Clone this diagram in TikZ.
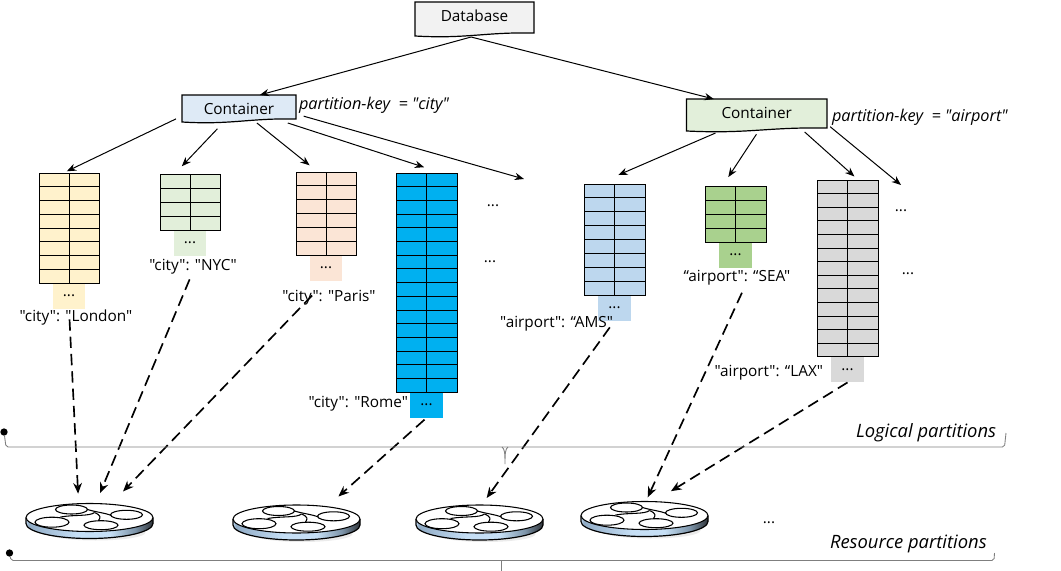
\documentclass[tikz,border=0pt]{standalone}
\usepackage{fontspec}
\setmainfont[Ligatures=TeXOff]{Open Sans}
\usetikzlibrary{calc,positioning,arrows.meta,shadings}
\definecolor{dbfill}{HTML}{F2F2F2}
\definecolor{cityfill}{HTML}{DEEAF6}
\definecolor{airportfill}{HTML}{E2EFDA}
\definecolor{londonfill}{HTML}{FFF2CC}
\definecolor{nycfill}{HTML}{E2EFDA}
\definecolor{parisfill}{HTML}{FBE5D6}
\definecolor{romefill}{HTML}{00B0F0}
\definecolor{amsfill}{HTML}{BDD7EE}
\definecolor{seafill}{HTML}{A9D18E}
\definecolor{laxfill}{HTML}{D9D9D9}
\definecolor{braceline}{HTML}{7F7F7F}
\definecolor{diskedge}{HTML}{8FAAC4}
\definecolor{disklight}{HTML}{C6DFF5}
\definecolor{diskmid}{HTML}{7C93A8}
\definecolor{diskdark}{HTML}{2F3439}
\pgfdeclarehorizontalshading{diskband}{100bp}{
	color(0bp)=(disklight);
	color(25bp)=(disklight);
	color(26bp)=(diskedge);
	color(45bp)=(disklight);
	color(58bp)=(disklight);
	color(68bp)=(diskmid);
	color(75bp)=(diskdark);
	color(100bp)=(diskdark)
}
\tikzset{
	x=0.75pt,
	y=-0.75pt,
	>={Stealth[length=7pt,width=5.5pt]},
	every node/.style={inner sep=0pt, outer sep=0pt, font=\fontsize{11.5}{13}\selectfont},
	link/.style={->, line width=0.75pt},
	dashlink/.style={->, line width=1.25pt, dash pattern=on 8.5pt off 4.5pt,
		>={Stealth[length=8pt,width=6.5pt]}},
	brace/.style={draw=braceline, line width=0.65pt},
	spot/.style={minimum width=95.25pt, minimum height=26.25pt},
	dots/.style={font=\fontsize{11.5}{13}\selectfont},
	keytext/.style={font=\fontsize{12.2}{14}\selectfont\itshape, anchor=west},
	areatext/.style={font=\fontsize{13.8}{16}\selectfont\itshape, anchor=west},
}
% wavy box: name, x, y (centre), width, height, fill, text
\newcommand{\docbox}[7]{
	\node[minimum width=#4*0.75pt, minimum height=#5*0.75pt] (#1) at (#2,#3) {};
	\draw[black, line width=0.9pt, fill=#6]
		(#1.north west) -- (#1.north east) -- ($(#1.south east)+(0,-4)$)
		.. controls ($(#1.south)+(10,-5)$) and ($(#1.south)+(-8,2)$) .. ($(#1.south west)+(0,-1)$)
		-- cycle;
	\node at ($(#1.north)+(0,13.5)$) {#7};
}
% table with a box under it: name, left, top, right, rows, row height, fill
\newcommand{\parttable}[7]{
	\node[minimum width={(#4-#2)*0.75pt}, minimum height={#5*#6*0.75pt}, anchor=north west,
		fill=#7, draw=black, line width=0.75pt] (#1table) at (#2,#3) {};
	\draw[line width=0.75pt] (#1table.north) -- (#1table.south);
	\foreach \r in {1,...,#5} {
		\draw[line width=0.7pt] ($(#1table.north west)+(0,\r*#6)$) -- ($(#1table.north east)+(0,\r*#6)$);
	}
	\node[minimum width=24.5pt, minimum height=18.75pt, fill=#7, below=0.5pt of #1table] (#1box) {\raisebox{1pt}{...}};
}
% disk: name, x, y (centre)
\newcommand{\partdisk}[3]{
	\node[spot] (#1) at (#2,#3) {};
	\begin{scope}[shift={(#1.center)}]
		\fill[black!8] (6,12) ellipse [x radius=50, y radius=8];
		\shade[shading=diskband]
			(-63.5,-3) -- (-63.5,3) arc [start angle=180, end angle=0, x radius=63.5, y radius=15]
			-- (63.5,-3) -- cycle;
		\draw[line width=0.9pt] (-63.5,-3) -- (-63.5,3) arc [start angle=180, end angle=0, x radius=63.5, y radius=15] -- (63.5,-3);
		\draw[line width=0.8pt, fill=white] (0,-3) ellipse [x radius=63.5, y radius=14];
		\draw[line width=0.8pt] (-18,-11) ellipse [x radius=16, y radius=4.5];
		\draw[line width=0.8pt] (37,-5.7) ellipse [x radius=16, y radius=4.5];
		\draw[line width=0.8pt] (-37.5,1.7) ellipse [x radius=17, y radius=5];
		\draw[line width=0.8pt] (11.5,4.7) ellipse [x radius=17, y radius=4.5];
		\draw[line width=0.8pt] (-2,-11) .. controls (8,-8) and (14,-8) .. (22,-5);
		\draw[line width=0.8pt] (-29,-3.5) .. controls (-15,-6) and (0,-4) .. (5,-8);
		\draw[line width=0.8pt] (5,-8) .. controls (12,-5) and (11,-3) .. (9,0);
	\end{scope}
}

\begin{document}
\begin{tikzpicture}
	\useasboundingbox (0,0) rectangle (1061,571);

	\docbox{database}{474.5}{19.5}{119}{35}{dbfill}{Database}
	\docbox{citycontainer}{239}{109}{114}{28}{cityfill}{Container}
	\docbox{airportcontainer}{756.75}{115.5}{140.5}{33}{airportfill}{Container}

	\node[keytext] at (299,105) {partition-key \ = "city"};
	\node[keytext] at (832,117) {partition-key \ = "airport"};

	\parttable{london}{39}{173}{99}{8}{13.75}{londonfill}
	\parttable{nyc}{160}{174}{220}{4}{14}{nycfill}
	\parttable{paris}{296}{172}{356}{6}{13.9}{parisfill}
	\parttable{rome}{396}{173}{457}{16}{13.7}{romefill}
	\parttable{ams}{584}{184}{645}{8}{13.9}{amsfill}
	\parttable{sea}{705}{186}{766}{4}{14}{seafill}
	\parttable{lax}{817}{180}{878}{13}{13.6}{laxfill}

	\node (londonlabel) at (76,318) {"city": "London"};
	\node (nyclabel) at (193,267) {"city": "NYC"};
	\node (parislabel) at (329,298) {"city": "Paris"};
	\node[anchor=east] (romelabel) at (408,404) {"city": "Rome"};
	\node[anchor=east] (amslabel) at (613,324) {"airport": “AMS"};
	\node (sealabel) at (737,278) {“airport": “SEA"};
	\node[anchor=east] (laxlabel) at (823,373) {"airport": “LAX"};

	\node[dots] (citydotsa) at (493,206) {...};
	\node[dots] (citydotsb) at (490,262) {...};
	\node[dots] (airportdotsa) at (901,211) {...};
	\node[dots] (airportdotsb) at (908,274) {...};
	\node[dots] (diskdots) at (769,523) {...};

	\partdisk{diska}{89.5}{520.5}
	\partdisk{diskb}{296.5}{522}
	\partdisk{diskc}{479.5}{522}
	\partdisk{diskd}{644.5}{518.5}

	\coordinate (cityfree) at (524,179);
	\coordinate (airportfree) at (901,185);

	\draw[link] (database.259) -- (citycontainer.34);
	\draw[link] (database.259) -- (airportcontainer.159);

	\draw[link, shorten <=5pt, shorten >=3pt] (citycontainer.187) -- (londontable.96);
	\draw[link, shorten <=6pt, shorten >=8pt] (citycontainer.221) -- (nyctable.119);
	\draw[link, shorten >=8pt] (citycontainer.322) -- (paristable.101);
	\draw[link, shorten >=14pt] (citycontainer.344) -- (rometable.82);
	\draw[link, shorten <=6pt] (citycontainer.355) -- (cityfree);

	\draw[link, shorten <=2pt, shorten >=17pt] (airportcontainer.203) -- (amstable.107);
	\draw[link, shorten <=2pt, shorten >=8pt] (airportcontainer.274) -- (seatable.115);
	\draw[link, shorten >=4pt] (airportcontainer.341) -- (laxtable.83);
	\draw[link, shorten <=3pt] (airportcontainer.353) -- (airportfree);

	\draw[dashlink, shorten <=8pt, shorten >=7pt] (londonbox.south) -- (diska.122);
	\draw[dashlink, shorten <=4pt, shorten >=8pt] (nyclabel.260) -- (diska.70);
	\draw[dashlink, shorten <=15pt, shorten >=12pt] (parisbox.south) -- (diska.38);
	\draw[dashlink, shorten <=2pt, shorten >=9pt] (romebox.south) -- (diskb.28);
	\draw[dashlink, shorten <=6pt, shorten >=6pt] (amsbox.south) -- (diskc.82);
	\draw[dashlink, shorten <=6pt, shorten >=3pt] (sealabel.318) -- (diskd.85);
	\draw[dashlink, shorten >=14pt] (laxbox.south) -- (diskd.59);

	\node[fill=black, circle, minimum size=5.5pt] (logicaldot) at (4,432) {};
	\node[fill=black, circle, minimum size=5.5pt] (resourcedot) at (9.5,553) {};
	\coordinate (logicalend) at (1006,433);
	\coordinate (resourceend) at (994.5,553);
	\draw[brace, rounded corners=1.5pt] (logicaldot) -- (6,447) -- (1004.5,447) -- (logicalend);
	\draw[brace] (502,447) .. controls (504.5,449) and (505,452) .. (505,464) .. controls (505,452) and (505.5,449) .. (508,447);
	\draw[brace, rounded corners=1.5pt] (resourcedot) -- (11,560.5) -- (994,560.5) -- (resourceend);
	\draw[brace] (501.5,560.5) -- (501.5,571);

	\node[areatext] at (856,433) {Logical partitions};
	\node[areatext] at (830,544) {Resource partitions};
\end{tikzpicture}
\end{document}
